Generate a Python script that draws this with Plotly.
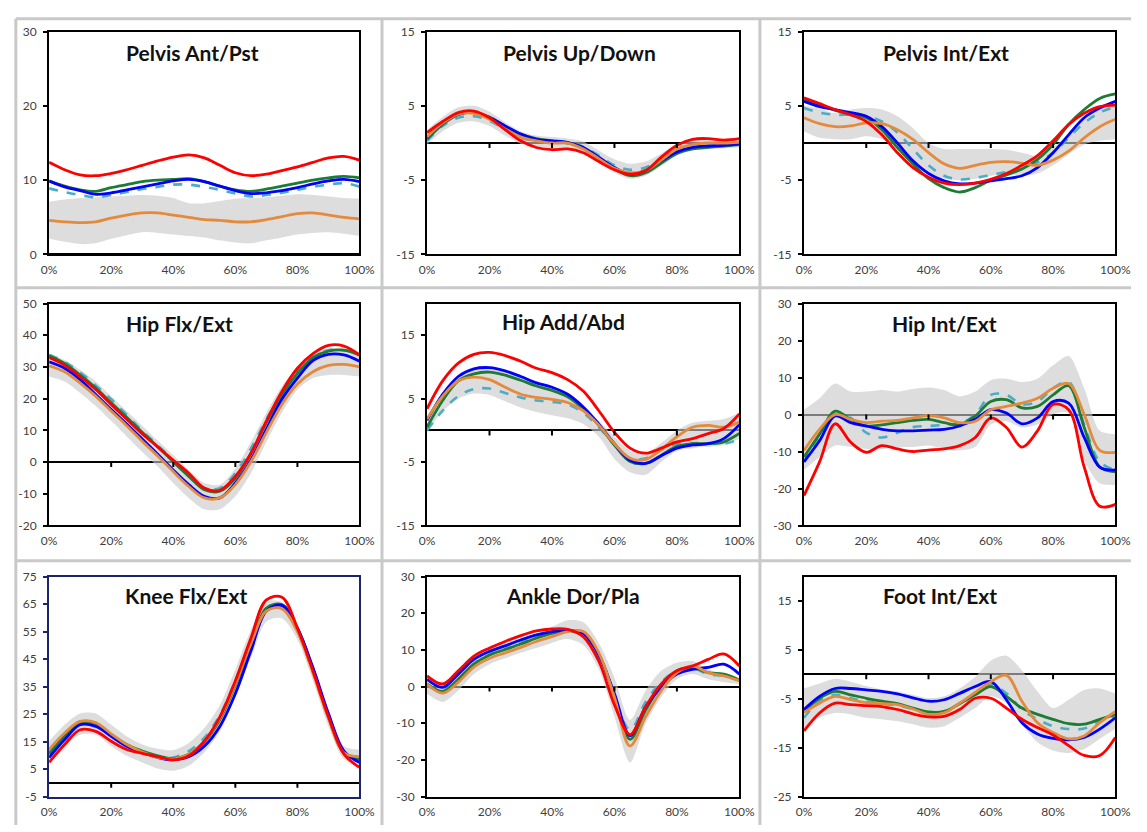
import plotly.graph_objects as go

# ---------------- data (percent of gait cycle) ----------------
X = [0, 5, 10, 15, 20, 25, 30, 35, 40, 45, 50, 55, 60, 65, 70, 75, 80, 85, 90, 95, 100]
X_TICKS = [0, 20, 40, 60, 80, 100]
X_TICKTEXT = ["0%", "20%", "40%", "60%", "80%", "100%"]

TITLES = ["Pelvis Ant/Pst", "Pelvis Up/Down", "Pelvis Int/Ext",
          "Hip Flx/Ext", "Hip Add/Abd", "Hip Int/Ext",
          "Knee Flx/Ext", "Ankle Dor/Pla", "Foot Int/Ext"]

# Pelvis Ant/Pst
PT_RED = [12.4, 11.4, 10.7, 10.6, 10.9, 11.4, 12.0, 12.6, 13.1, 13.4, 13.0, 12.0, 11.0, 10.6, 10.8, 11.3, 11.8, 12.4, 13.0, 13.2, 12.7]
PT_GREEN = [9.9, 9.2, 8.7, 8.5, 9.0, 9.4, 9.8, 10.0, 10.1, 10.2, 9.8, 9.2, 8.7, 8.5, 8.8, 9.2, 9.6, 10.0, 10.3, 10.5, 10.3]
PT_BLUE = [9.9, 9.1, 8.6, 8.1, 8.3, 8.7, 9.1, 9.5, 9.9, 10.1, 9.8, 9.2, 8.6, 8.2, 8.3, 8.6, 9.0, 9.5, 9.9, 10.1, 9.8]
PT_NORM = [8.9, 8.4, 8.0, 7.7, 8.0, 8.4, 8.8, 9.1, 9.4, 9.4, 9.1, 8.7, 8.2, 7.8, 8.0, 8.3, 8.7, 9.1, 9.4, 9.6, 9.1]
PT_ORANGE = [4.6, 4.4, 4.3, 4.4, 4.9, 5.3, 5.6, 5.6, 5.3, 5.0, 4.7, 4.6, 4.4, 4.4, 4.7, 5.1, 5.5, 5.6, 5.3, 5.0, 4.8]
PT_HI = [7.1, 7.4, 7.6, 7.7, 7.8, 7.9, 8.0, 7.9, 7.6, 6.9, 6.9, 7.2, 7.5, 7.6, 7.7, 7.9, 8.1, 8.0, 7.8, 7.6, 7.5]
PT_LO = [2.1, 1.7, 1.4, 1.5, 2.1, 2.6, 3.0, 2.9, 2.7, 2.5, 2.3, 1.9, 1.6, 1.5, 1.9, 2.3, 2.7, 2.9, 3.0, 2.8, 2.5]

# Pelvis Up/Down
PO_RED = [1.4, 2.9, 4.1, 4.3, 3.4, 1.8, 0.3, -0.6, -0.9, -0.8, -1.3, -2.5, -3.6, -4.2, -3.7, -1.9, -0.3, 0.5, 0.6, 0.4, 0.6]
PO_BLUE = [0.7, 2.7, 3.9, 4.1, 3.4, 2.3, 1.2, 0.5, 0.3, 0.1, -0.6, -1.9, -3.3, -4.2, -3.7, -2.4, -1.2, -0.6, -0.4, -0.3, -0.1]
PO_GREEN = [0.5, 2.5, 3.8, 4.1, 3.5, 2.3, 1.2, 0.6, 0.3, 0.0, -0.6, -2.1, -3.5, -4.4, -4.0, -2.7, -1.4, -0.8, -0.6, -0.4, -0.2]
PO_NORM = [0.3, 2.3, 3.4, 3.6, 3.0, 1.8, 0.7, 0.3, 0.0, 0.0, -0.5, -1.7, -3.0, -3.6, -3.3, -2.2, -0.9, -0.3, -0.2, -0.1, 0.0]
PO_ORANGE = [0.8, 2.7, 3.9, 4.0, 3.2, 1.9, 0.8, 0.3, 0.0, 0.0, -0.8, -2.1, -3.4, -4.0, -3.7, -2.3, -0.8, -0.2, 0.0, 0.0, 0.1]
PO_HI = [1.8, 3.5, 4.8, 5.0, 4.2, 2.8, 1.6, 1.0, 0.8, 0.6, 0.2, -1.0, -2.2, -2.8, -2.5, -1.4, -0.2, 0.4, 0.5, 0.5, 0.6]
PO_LO = [-0.2, 1.6, 2.7, 2.9, 2.3, 1.0, -0.1, -0.6, -0.8, -0.7, -1.4, -2.7, -4.0, -4.8, -4.4, -3.1, -1.7, -1.0, -0.8, -0.7, -0.6]

# Pelvis Int/Ext
PR_RED = [6.1, 5.3, 4.5, 3.8, 2.9, 1.1, -1.3, -3.3, -4.6, -5.4, -5.6, -5.4, -4.9, -4.1, -3.0, -1.7, 0.3, 2.5, 4.0, 4.9, 5.1]
PR_GREEN = [5.8, 5.1, 4.4, 3.8, 3.4, 1.8, -0.6, -2.8, -4.8, -6.0, -6.6, -6.0, -5.0, -4.3, -3.5, -2.2, -0.2, 2.5, 4.5, 6.0, 6.6]
PR_BLUE = [5.6, 4.9, 4.5, 4.1, 3.6, 2.2, 0.0, -2.4, -4.1, -5.1, -5.5, -5.4, -5.1, -4.8, -4.4, -3.3, -1.3, 1.1, 3.4, 4.7, 5.6]
PR_NORM = [4.7, 4.1, 3.8, 3.8, 3.6, 2.9, 1.4, -0.8, -3.0, -4.4, -4.9, -4.7, -4.3, -3.9, -3.5, -2.6, -1.3, 0.7, 2.7, 4.1, 4.9]
PR_ORANGE = [3.4, 2.6, 2.2, 2.3, 2.7, 2.6, 1.8, 0.5, -1.3, -2.8, -3.4, -3.0, -2.6, -2.5, -2.7, -3.0, -2.3, -1.1, 0.7, 2.2, 3.2]
PR_HI = [5.1, 4.6, 4.0, 4.5, 4.7, 4.5, 3.6, 2.0, 0.0, -0.8, -0.8, -0.8, -0.8, -0.9, -1.3, -1.7, -0.6, 1.1, 3.1, 4.5, 5.3]
PR_LO = [1.6, 0.7, 0.5, 0.5, 0.9, 0.5, -0.8, -2.6, -4.1, -4.8, -5.0, -4.8, -4.4, -4.1, -4.4, -4.1, -3.0, -1.5, -0.2, 0.3, 0.5]

# Hip Flx/Ext
HF_RED = [33.0, 30.6, 27.0, 22.9, 18.2, 13.5, 8.9, 4.8, 0.6, -3.5, -8.2, -8.9, -4.5, 2.7, 13.0, 22.3, 29.6, 34.2, 36.8, 36.6, 33.8]
HF_GREEN = [33.5, 31.1, 27.5, 23.4, 18.7, 14.1, 9.4, 4.8, 0.1, -4.5, -8.7, -9.2, -5.1, 2.7, 12.5, 21.3, 28.0, 32.9, 35.0, 35.3, 33.7]
HF_BLUE = [31.6, 29.6, 26.0, 21.3, 16.6, 12.0, 7.3, 2.5, -2.5, -7.1, -10.8, -11.3, -6.6, 0.6, 10.4, 19.8, 26.5, 32.0, 34.0, 33.8, 31.8]
HF_NORM = [33.9, 31.6, 28.3, 24.2, 19.8, 14.9, 9.9, 5.3, 0.6, -4.0, -8.2, -8.2, -3.5, 4.2, 13.5, 21.8, 28.5, 33.2, 35.3, 35.3, 33.9]
HF_ORANGE = [30.4, 28.5, 24.9, 20.8, 16.1, 11.5, 6.6, 1.9, -3.0, -7.7, -11.3, -11.3, -7.1, 0.1, 9.4, 18.2, 24.6, 28.5, 30.5, 30.8, 30.0]
HF_HI = [34.2, 32.2, 29.1, 25.4, 20.8, 16.1, 11.5, 6.8, 2.2, -2.5, -6.6, -7.1, -2.0, 6.3, 15.6, 23.9, 30.1, 34.2, 35.8, 35.8, 34.7]
HF_LO = [27.0, 25.4, 21.8, 17.7, 13.0, 8.1, 3.2, -1.4, -6.6, -11.3, -14.9, -14.9, -10.8, -3.5, 6.3, 15.6, 22.8, 26.5, 27.5, 27.5, 27.0]

# Hip Add/Abd
HA_RED = [3.4, 7.8, 10.6, 12.0, 12.3, 11.8, 10.9, 9.8, 9.1, 8.0, 6.2, 3.1, -0.3, -2.8, -3.6, -2.8, -1.8, -1.3, -0.5, 0.3, 2.6]
HA_BLUE = [1.6, 5.7, 8.5, 9.7, 9.9, 9.4, 8.5, 7.5, 6.8, 5.7, 3.7, 1.0, -2.1, -4.7, -5.2, -4.0, -2.8, -2.3, -2.1, -1.3, 0.9]
HA_GREEN = [0.5, 4.7, 7.8, 8.9, 9.2, 8.7, 7.9, 7.0, 6.3, 5.3, 3.4, 0.8, -2.3, -4.9, -5.2, -3.9, -2.5, -2.1, -2.1, -1.8, -0.5]
HA_NORM = [0.0, 3.1, 5.4, 6.5, 6.6, 5.9, 5.2, 4.7, 4.5, 4.1, 2.8, 0.5, -2.3, -4.4, -4.4, -3.1, -2.1, -2.0, -2.0, -2.1, -1.4]
HA_ORANGE = [1.8, 5.4, 7.8, 8.4, 8.0, 6.8, 5.7, 5.2, 4.9, 4.4, 3.1, 0.8, -2.1, -4.4, -4.6, -3.0, -1.0, 0.5, 0.8, 0.5, 1.3]
HA_HI = [1.0, 5.5, 8.2, 9.5, 9.7, 9.3, 8.6, 7.8, 7.0, 6.0, 4.0, 1.5, -1.0, -3.2, -3.6, -2.0, 0.0, 1.2, 1.5, 1.8, 2.8]
HA_LO = [-0.3, 3.0, 5.0, 5.8, 5.6, 4.6, 3.6, 2.9, 2.4, 1.9, 1.0, -1.0, -4.5, -6.6, -7.0, -5.0, -3.2, -2.8, -2.6, -2.3, -1.3]

# Hip Int/Ext
HR_RED = [-21.9, -12.8, -2.5, -7.5, -10.2, -8.4, -9.3, -10.0, -9.6, -9.3, -8.4, -6.2, -0.9, -3.5, -8.8, -4.4, 2.7, 1.3, -14.2, -24.8, -24.3]
HR_BLUE = [-12.8, -7.1, -0.4, -2.2, -3.1, -4.0, -4.4, -4.4, -4.2, -4.0, -3.1, -1.3, 1.3, 0.4, -2.5, -0.9, 3.5, 3.1, -6.2, -14.2, -15.0]
HR_GREEN = [-11.5, -5.3, 0.9, -1.3, -3.1, -2.8, -2.2, -1.6, -1.3, -2.2, -2.7, -0.4, 3.5, 4.0, 1.8, 2.2, 5.3, 7.8, -3.5, -14.2, -15.5]
HR_NORM = [-12.8, -5.8, 0.0, -0.9, -4.9, -6.2, -4.9, -3.4, -3.1, -2.8, -2.5, 0.0, 5.3, 5.3, 2.8, 3.5, 7.1, 8.8, -2.7, -12.8, -15.0]
HR_ORANGE = [-9.7, -4.0, 0.0, -1.3, -2.2, -1.8, -1.6, -0.9, -0.3, -0.9, -2.2, -1.8, 1.3, 2.2, 3.1, 4.4, 7.1, 8.4, 0.0, -9.7, -10.2]
HR_HI = [1.3, 4.4, 8.4, 6.2, 6.2, 6.6, 6.2, 6.9, 7.3, 6.6, 4.9, 6.2, 9.3, 9.7, 8.8, 9.7, 13.3, 15.8, 7.1, -4.4, -5.3]
HR_LO = [-15.0, -11.5, -8.4, -8.8, -9.3, -9.3, -8.8, -8.8, -8.4, -9.3, -9.7, -8.8, -2.7, -1.8, -3.5, -2.7, 0.0, 0.4, -12.4, -18.6, -19.0]

# Knee Flx/Ext
KN_RED = [7.4, 13.9, 19.3, 18.7, 15.1, 12.1, 10.7, 9.5, 8.3, 9.8, 15.1, 24.0, 37.1, 52.6, 66.5, 67.5, 56.2, 40.7, 24.0, 10.4, 5.6]
KN_BLUE = [9.2, 15.7, 21.1, 20.5, 16.9, 13.3, 11.0, 9.2, 8.3, 9.5, 13.3, 20.5, 32.4, 47.9, 62.5, 64.5, 56.2, 41.9, 25.2, 11.5, 7.4]
KN_GREEN = [10.4, 16.9, 21.7, 21.4, 17.5, 13.9, 11.5, 9.8, 8.8, 10.4, 14.8, 22.9, 35.4, 50.2, 63.5, 64.8, 56.2, 41.3, 24.0, 10.9, 8.6]
KN_NORM = [11.2, 17.5, 22.3, 21.7, 17.5, 13.9, 11.5, 9.5, 9.2, 11.5, 16.3, 24.6, 37.1, 51.4, 63.3, 63.6, 55.0, 40.1, 23.5, 10.9, 9.2]
KN_ORANGE = [12.1, 18.1, 22.3, 21.9, 17.8, 13.9, 11.2, 9.2, 8.6, 10.4, 15.1, 23.5, 36.0, 50.5, 62.5, 63.3, 55.0, 40.1, 23.5, 10.9, 9.5]
KN_HI = [15.1, 21.1, 25.2, 25.2, 21.1, 16.9, 13.9, 12.4, 11.9, 14.5, 19.9, 28.2, 41.3, 55.6, 65.7, 65.7, 57.4, 43.1, 26.4, 13.3, 12.1]
KN_LO = [7.4, 13.3, 17.5, 17.5, 13.3, 9.8, 7.4, 5.2, 4.4, 6.2, 11.0, 18.7, 31.2, 45.5, 58.6, 59.8, 52.0, 37.1, 20.5, 8.6, 6.8]

# Ankle Dor/Pla
AN_RED = [2.9, 0.7, 4.3, 8.3, 10.5, 12.3, 13.9, 15.2, 15.7, 15.6, 13.6, 6.9, -5.0, -13.1, -5.5, 0.7, 4.3, 5.6, 7.4, 8.9, 5.6]
AN_BLUE = [2.0, -0.2, 3.4, 7.4, 9.6, 11.1, 12.7, 14.1, 15.0, 15.4, 14.5, 8.7, -2.0, -13.4, -5.5, -0.2, 3.4, 4.7, 5.2, 6.1, 3.4]
AN_GREEN = [0.7, -1.3, 2.0, 6.1, 8.6, 10.1, 11.6, 13.2, 14.5, 15.2, 14.5, 8.7, -2.4, -14.4, -6.4, 0.3, 4.3, 5.2, 3.8, 3.4, 1.8]
AN_NORM = [0.3, -1.1, 2.0, 6.2, 8.7, 10.2, 11.9, 13.4, 14.5, 15.0, 14.1, 7.8, -2.9, -11.8, -4.2, 1.2, 4.3, 5.0, 3.4, 2.9, 1.6]
AN_ORANGE = [0.7, -1.8, 1.2, 5.3, 7.7, 9.2, 10.7, 12.3, 13.6, 15.0, 15.0, 9.2, -2.9, -16.2, -8.2, -1.1, 3.8, 5.6, 3.8, 2.9, 1.6]
AN_HI = [1.6, 1.2, 3.8, 7.8, 10.5, 11.9, 13.2, 14.5, 16.3, 18.1, 17.6, 11.9, 2.5, -9.1, -1.1, 4.3, 6.5, 7.0, 4.7, 3.4, 2.0]
AN_LO = [-2.0, -4.2, -1.1, 3.4, 6.1, 7.7, 9.2, 10.5, 11.9, 13.0, 11.4, 4.7, -8.2, -20.7, -10.0, -2.9, 2.0, 3.4, 2.0, 1.2, 0.7]

# Foot Int/Ext
FT_RED = [-11.6, -7.9, -5.9, -6.2, -6.4, -6.6, -7.2, -8.1, -8.7, -8.6, -7.2, -4.9, -4.9, -6.9, -9.2, -10.9, -12.4, -14.6, -16.6, -16.6, -12.9]
FT_BLUE = [-7.2, -4.5, -2.9, -2.9, -3.2, -3.5, -4.0, -4.8, -5.5, -5.2, -3.9, -2.5, -1.5, -5.2, -9.9, -12.2, -13.1, -13.4, -12.9, -11.2, -8.9]
FT_GREEN = [-7.6, -4.9, -3.5, -4.2, -4.9, -5.5, -6.0, -6.9, -7.7, -7.6, -6.0, -4.2, -2.5, -4.5, -6.9, -8.2, -9.2, -10.1, -10.2, -9.2, -8.2]
FT_NORM = [-8.9, -5.5, -4.2, -4.9, -5.5, -6.0, -6.4, -7.1, -7.9, -7.6, -5.9, -3.9, -2.2, -3.9, -7.2, -9.2, -10.6, -11.2, -11.1, -9.6, -8.6]
FT_ORANGE = [-7.8, -5.9, -4.5, -5.2, -5.8, -6.0, -6.2, -7.1, -8.2, -7.9, -5.9, -3.7, -1.5, -0.2, -5.5, -9.9, -11.9, -13.2, -12.6, -9.9, -7.6]
FT_HI = [-2.9, -1.9, -0.9, -1.5, -2.4, -3.1, -3.5, -4.2, -4.9, -4.5, -2.9, -0.5, 2.8, 3.8, 0.8, -3.5, -6.9, -5.2, -3.2, -2.9, -3.9]
FT_LO = [-11.2, -8.9, -7.9, -8.2, -8.9, -9.2, -9.6, -10.2, -10.9, -10.6, -8.9, -6.9, -4.5, -5.9, -10.2, -13.9, -15.6, -16.1, -15.3, -13.2, -11.2]

# axis ranges and tick values per panel
Y_RANGES = [[0, 30], [-15, 15], [-15, 15], [-20, 50], [-15, 20], [-30, 30], [-5, 75], [-30, 30], [-25, 20]]
Y_TICKS = [[0, 10, 20, 30], [-15, -5, 5, 15], [-15, -5, 5, 15],
           [-20, -10, 0, 10, 20, 30, 40, 50], [-15, -5, 5, 15], [-30, -20, -10, 0, 10, 20, 30],
           [-5, 5, 15, 25, 35, 45, 55, 65, 75], [-30, -20, -10, 0, 10, 20, 30], [-25, -15, -5, 5, 15]]

SERIES = [
    (PT_LO, PT_HI, PT_NORM, PT_GREEN, PT_BLUE, PT_ORANGE, PT_RED),
    (PO_LO, PO_HI, PO_NORM, PO_GREEN, PO_BLUE, PO_ORANGE, PO_RED),
    (PR_LO, PR_HI, PR_NORM, PR_GREEN, PR_BLUE, PR_ORANGE, PR_RED),
    (HF_LO, HF_HI, HF_NORM, HF_GREEN, HF_BLUE, HF_ORANGE, HF_RED),
    (HA_LO, HA_HI, HA_NORM, HA_GREEN, HA_BLUE, HA_ORANGE, HA_RED),
    (HR_LO, HR_HI, HR_NORM, HR_GREEN, HR_BLUE, HR_ORANGE, HR_RED),
    (KN_LO, KN_HI, KN_NORM, KN_GREEN, KN_BLUE, KN_ORANGE, KN_RED),
    (AN_LO, AN_HI, AN_NORM, AN_GREEN, AN_BLUE, AN_ORANGE, AN_RED),
    (FT_LO, FT_HI, FT_NORM, FT_GREEN, FT_BLUE, FT_ORANGE, FT_RED),
]

# ---------------- styling / layout ----------------
W, H = 1147, 832
RED, BLUE, GREEN, TEAL, ORANGE = "#ff0000", "#0000ff", "#1e7b34", "#4bacc6", "#e48a3c"
BAND = "rgba(200,200,200,0.62)"
FONT = "Lato, Carlito, Calibri, sans-serif"
TICK_COLOR = "#404040"

# plot-area boxes in pixels: left, right, top, bottom
COLS = [(42, 359), (428, 747), (813, 1131)]
ROWS = [(24, 251), (301, 527), (579, 803)]
TITLE_POS = [(188, 45), (584, 45), (958, 45),
             (175, 321), (567, 319), (957, 321),
             (182, 598), (577, 598), (952, 598)]

fig = go.Figure()
shapes = []
annotations = []
layout = {}

for i in range(9):
    r, c = divmod(i, 3)
    n = "" if i == 0 else str(i + 1)
    xa, ya = "x" + n, "y" + n
    lo, hi, norm, green, blue, orange, red = SERIES[i]
    common = dict(x=X, xaxis=xa, yaxis=ya, mode="lines", showlegend=False, hoverinfo="skip")
    fig.add_trace(go.Scatter(y=lo, line=dict(width=0, shape="spline", smoothing=0.8), **common))
    fig.add_trace(go.Scatter(y=hi, line=dict(width=0, shape="spline", smoothing=0.8),
                             fill="tonexty", fillcolor=BAND, **common))
    fig.add_trace(go.Scatter(y=norm, line=dict(color=TEAL, width=2.6, dash="dash", shape="spline", smoothing=1.0), **common))
    fig.add_trace(go.Scatter(y=green, line=dict(color=GREEN, width=2.8, shape="spline", smoothing=1.0), **common))
    fig.add_trace(go.Scatter(y=blue, line=dict(color=BLUE, width=2.8, shape="spline", smoothing=1.0), **common))
    fig.add_trace(go.Scatter(y=orange, line=dict(color=ORANGE, width=2.8, shape="spline", smoothing=1.0), **common))
    fig.add_trace(go.Scatter(y=red, line=dict(color=RED, width=2.8, shape="spline", smoothing=1.0), **common))

    left, right = COLS[c]
    top, bottom = ROWS[r]
    border = "#1c2470" if i == 6 else "black"
    layout["xaxis" + n] = dict(
        domain=[left / W, right / W], anchor=ya, range=[0, 100],
        tickvals=X_TICKS, ticktext=X_TICKTEXT, ticks="outside", ticklen=3,
        tickcolor="rgba(0,0,0,0)", showgrid=False, zeroline=False,
        showline=True, mirror=True, linecolor=border, linewidth=2,
        tickfont=dict(family=FONT, size=12, color=TICK_COLOR), fixedrange=True,
    )
    layout["yaxis" + n] = dict(
        domain=[1 - bottom / H, 1 - top / H], anchor=xa, range=Y_RANGES[i],
        tickvals=Y_TICKS[i], ticktext=[str(v) for v in Y_TICKS[i]],
        ticks="outside", ticklen=4, tickwidth=1.5, tickcolor=border, ticklabelstandoff=4,
        showgrid=False, zeroline=True, zerolinecolor="black", zerolinewidth=2,
        showline=True, mirror=True, linecolor=border, linewidth=2,
        tickfont=dict(family=FONT, size=12, color=TICK_COLOR), fixedrange=True,
    )
    # small tick marks along the zero line
    if Y_RANGES[i][0] < 0:
        for tv in X_TICKS[1:-1]:
            shapes.append(dict(type="line", xref=xa, yref=ya, x0=tv, x1=tv,
                               ysizemode="pixel", yanchor=0, y0=0, y1=-5,
                               line=dict(color="black", width=2)))
    tx, ty = TITLE_POS[i]
    annotations.append(dict(text="<b>%s</b>" % TITLES[i], x=tx / W, y=1 - ty / H,
                            xref="paper", yref="paper", xanchor="center", yanchor="middle",
                            showarrow=False, font=dict(family=FONT, size=21, color="#111111")))

# light grey frame lines separating the chart panels
SEP = "#c9c9c9"
for vx in (8, 382, 768):
    shapes.append(dict(type="line", xref="paper", yref="paper", x0=vx / W, x1=vx / W,
                       y0=0, y1=1 - 11 / H, line=dict(color=SEP, width=3), layer="below"))
for hy in (11, 285, 563):
    shapes.append(dict(type="line", xref="paper", yref="paper", x0=8 / W, x1=1,
                       y0=1 - hy / H, y1=1 - hy / H, line=dict(color=SEP, width=3), layer="below"))

fig.update_layout(
    width=W, height=H, margin=dict(l=0, r=0, t=0, b=0),
    paper_bgcolor="white", plot_bgcolor="white",
    shapes=shapes, annotations=annotations, showlegend=False,
    **layout,
)

fig.write_html("out.html", config={"displayModeBar": False})
